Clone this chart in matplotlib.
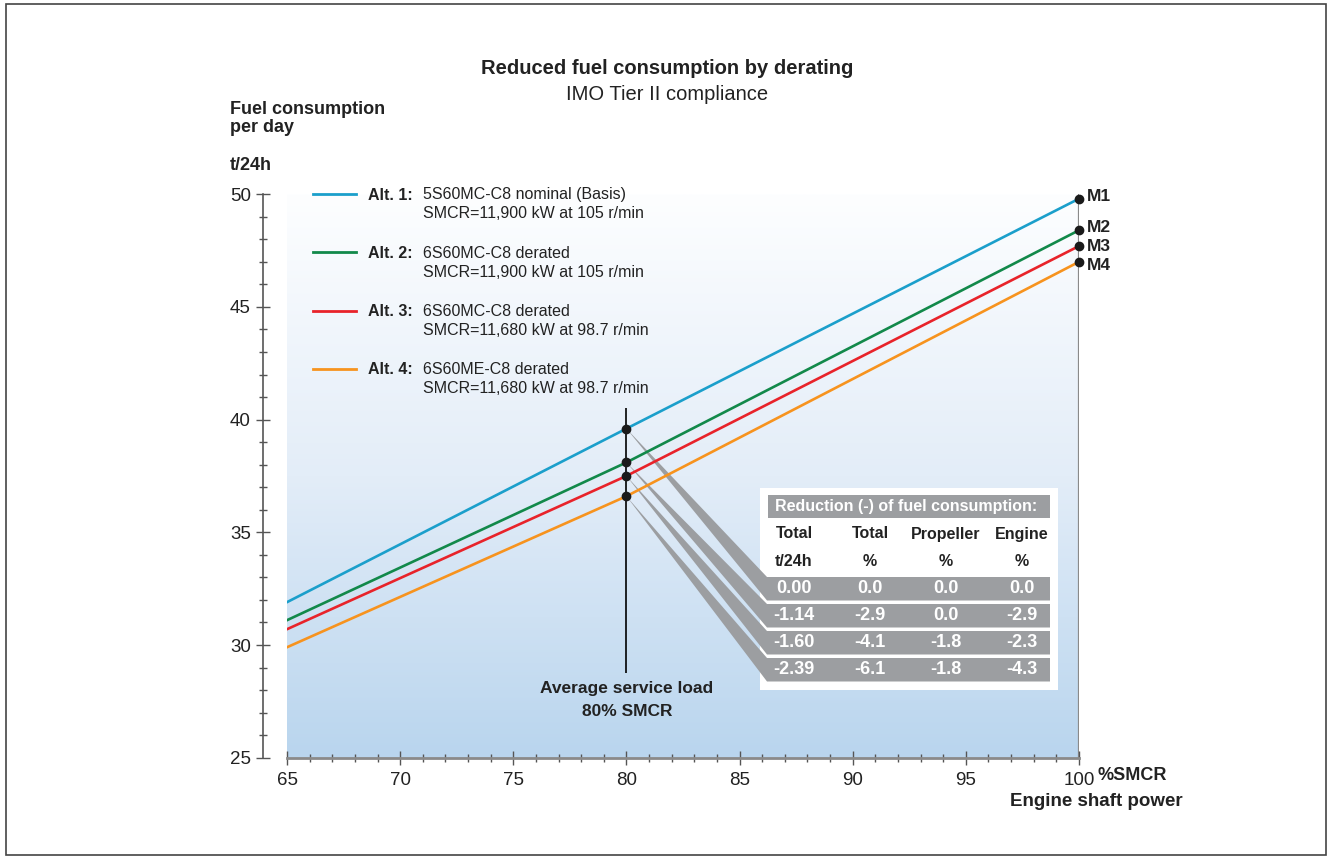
import numpy as np
import matplotlib
matplotlib.use('Agg')
import matplotlib.pyplot as plt
from matplotlib.colors import LinearSegmentedColormap
from matplotlib.patches import Polygon, Rectangle
from matplotlib.lines import Line2D

# data
load = [65, 80, 100]
alt1 = [31.9, 39.6, 49.8]
alt2 = [31.1, 38.1, 48.4]
alt3 = [30.7, 37.5, 47.7]
alt4 = [29.9, 36.6, 47.0]
series = [alt1, alt2, alt3, alt4]
colors = ['#1b9fcb', '#12894a', '#e8232a', '#f7931e']
alt_names = ['Alt. 1:', 'Alt. 2:', 'Alt. 3:', 'Alt. 4:']
alt_desc = [('5S60MC-C8 nominal (Basis)', 'SMCR=11,900 kW at 105 r/min'),
            ('6S60MC-C8 derated', 'SMCR=11,900 kW at 105 r/min'),
            ('6S60MC-C8 derated', 'SMCR=11,680 kW at 98.7 r/min'),
            ('6S60ME-C8 derated', 'SMCR=11,680 kW at 98.7 r/min')]
point_labels = ['M1', 'M2', 'M3', 'M4']
head1 = ['Total', 'Total', 'Propeller', 'Engine']
head2 = ['t/24h', '%', '%', '%']
table_rows = [['0.00', '0.0', '0.0', '0.0'],
              ['-1.14', '-2.9', '0.0', '-2.9'],
              ['-1.60', '-4.1', '-1.8', '-2.3'],
              ['-2.39', '-6.1', '-1.8', '-4.3']]

FONT = ['Liberation Sans', 'DejaVu Sans']
plt.rcParams['font.family'] = FONT
ink = '#222222'

W, H = 1330, 859
fig = plt.figure(figsize=(13.3, 8.59), dpi=100)


def fx(px):
    return px / W


def fy(py):
    return 1 - py / H


ax = fig.add_axes([fx(287), fy(757.7), fx(1079) - fx(287), fy(194.2) - fy(757.7)])
ax.set_xlim(65, 100)
ax.set_ylim(25, 50)

# background gradient
grad = np.linspace(0, 1, 256).reshape(-1, 1)
cmap = LinearSegmentedColormap.from_list('bg', ['#fdfeff', '#e3edf8', '#b9d5ee'])
ax.imshow(grad, extent=(65, 100, 25, 50), aspect='auto', cmap=cmap, zorder=0)

for s in ['top', 'right']:
    ax.spines[s].set_visible(False)
ax.spines['left'].set_position(('outward', 17))
ax.spines['left'].set_color('#555555')
ax.spines['left'].set_linewidth(1.2)
ax.spines['bottom'].set_color('#8a8a8a')
ax.spines['bottom'].set_linewidth(2)
ax.axvline(100, color='#8a8a8a', lw=1.6, zorder=1)

ax.set_xticks(range(65, 101, 5))
ax.set_xticks(range(65, 101), minor=True)
ax.set_yticks(range(25, 51, 5))
ax.set_yticks(range(25, 51), minor=True)
ax.tick_params(which='major', direction='inout', length=10, width=1, color='#555555',
               labelsize=13.5, labelcolor=ink)
ax.tick_params(which='minor', direction='inout', length=6, width=1, color='#555555')
ax.tick_params(axis='x', pad=5)
ax.tick_params(axis='y', pad=4)

# lines and points
for s, c in zip(series, colors):
    ax.plot(load, s, color=c, lw=1.9, zorder=3)
ax.vlines(80, 28.75, 40.5, color='black', lw=1.2, zorder=4)
ax.plot([80] * 4, [s[1] for s in series], 'o', color='#1a1a1a', ms=6, zorder=5)
ax.plot([100] * 4, [s[2] for s in series], 'o', color='#1a1a1a', ms=6, zorder=5, clip_on=False)

label_dy = [1.5, 2, 0, -2.5]
for s, lbl, dy in zip(series, point_labels, label_dy):
    ax.annotate(lbl, (100, s[2]), xytext=(6, dy), textcoords='offset points',
                fontsize=12.5, fontweight='bold', va='center', ha='left',
                annotation_clip=False, color=ink)

# legend
for i, (nm, desc, c) in enumerate(zip(alt_names, alt_desc, colors)):
    y0 = 194 + i * 58.3
    fig.add_artist(Line2D([fx(313), fx(356)], [fy(y0), fy(y0)], color=c, lw=2))
    fig.text(fx(368), fy(y0 + 1), nm, fontsize=11.5, fontweight='bold', va='center', color=ink)
    fig.text(fx(423), fy(y0 + 1), desc[0], fontsize=11.5, va='center', color=ink)
    fig.text(fx(423), fy(y0 + 20), desc[1], fontsize=11.5, va='center', color=ink)

# table with wedges
to_fig = ax.transData + fig.transFigure.inverted()
ax.add_patch(Rectangle((fx(760), fy(690)), fx(1058) - fx(760), fy(488) - fy(690),
                       transform=fig.transFigure, facecolor='white', edgecolor='none',
                       zorder=2, clip_on=False))
gray = '#9c9ea1'
ax.add_patch(Rectangle((fx(768), fy(518)), fx(1050) - fx(768), fy(495) - fy(518),
                       transform=fig.transFigure, facecolor=gray, edgecolor='none',
                       zorder=2.2, clip_on=False))
fig.text(fx(775), fy(507), 'Reduction (-) of fuel consumption:', fontsize=11.5,
         fontweight='bold', color='white', va='center', ha='left', zorder=10)
col_x = [794, 870, 946, 1022]
for cx, h1, h2 in zip(col_x, head1, head2):
    fig.text(fx(cx), fy(534), h1, fontsize=11.5, fontweight='bold', ha='center', va='center', color=ink)
    fig.text(fx(cx), fy(561), h2, fontsize=11.5, fontweight='bold', ha='center', va='center', color=ink)

row_top = [577, 604, 631, 658]
row_h = 23.5
for s, top, vals in zip(series, row_top, table_rows):
    apx, apy = to_fig.transform((80, s[1]))
    bot = top + row_h
    poly = [(apx, apy), (fx(767), fy(top)), (fx(1050), fy(top)),
            (fx(1050), fy(bot)), (fx(767), fy(bot))]
    ax.add_patch(Polygon(poly, closed=True, transform=fig.transFigure, facecolor=gray,
                         edgecolor='none', zorder=2.5, clip_on=False))
    for cx, v in zip(col_x, vals):
        fig.text(fx(cx), fy(top + row_h / 2), v, fontsize=13, fontweight='bold',
                 ha='center', va='center', color='white', zorder=10)

# annotations and titles
fig.text(fx(627), fy(689), 'Average service load', fontsize=12.5, fontweight='bold',
         ha='center', va='center', color=ink)
fig.text(fx(627), fy(711), '80% SMCR', fontsize=12.5, fontweight='bold',
         ha='center', va='center', color=ink)
fig.text(fx(1097), fy(776), '%SMCR', fontsize=13, fontweight='bold', ha='left', va='center', color=ink)
fig.text(fx(1183), fy(801), 'Engine shaft power', fontsize=13.5, fontweight='bold',
         ha='right', va='center', color=ink)

fig.text(fx(667), fy(69), 'Reduced fuel consumption by derating', fontsize=14.5,
         fontweight='bold', ha='center', va='center', color=ink)
fig.text(fx(667), fy(94), 'IMO Tier II compliance', fontsize=14.5,
         ha='center', va='center', color=ink)
fig.text(fx(230), fy(109), 'Fuel consumption', fontsize=13, fontweight='bold',
         va='center', color=ink)
fig.text(fx(230), fy(128), 'per day', fontsize=13, fontweight='bold',
         va='center', color=ink)
fig.text(fx(230), fy(166), 't/24h', fontsize=13, fontweight='bold',
         va='center', color=ink)

fig.add_artist(Rectangle((fx(6), fy(855)), fx(1326) - fx(6), fy(4) - fy(855),
                         transform=fig.transFigure, fill=False, edgecolor='#444444', lw=1.2))

fig.savefig('out.png', dpi=100)
